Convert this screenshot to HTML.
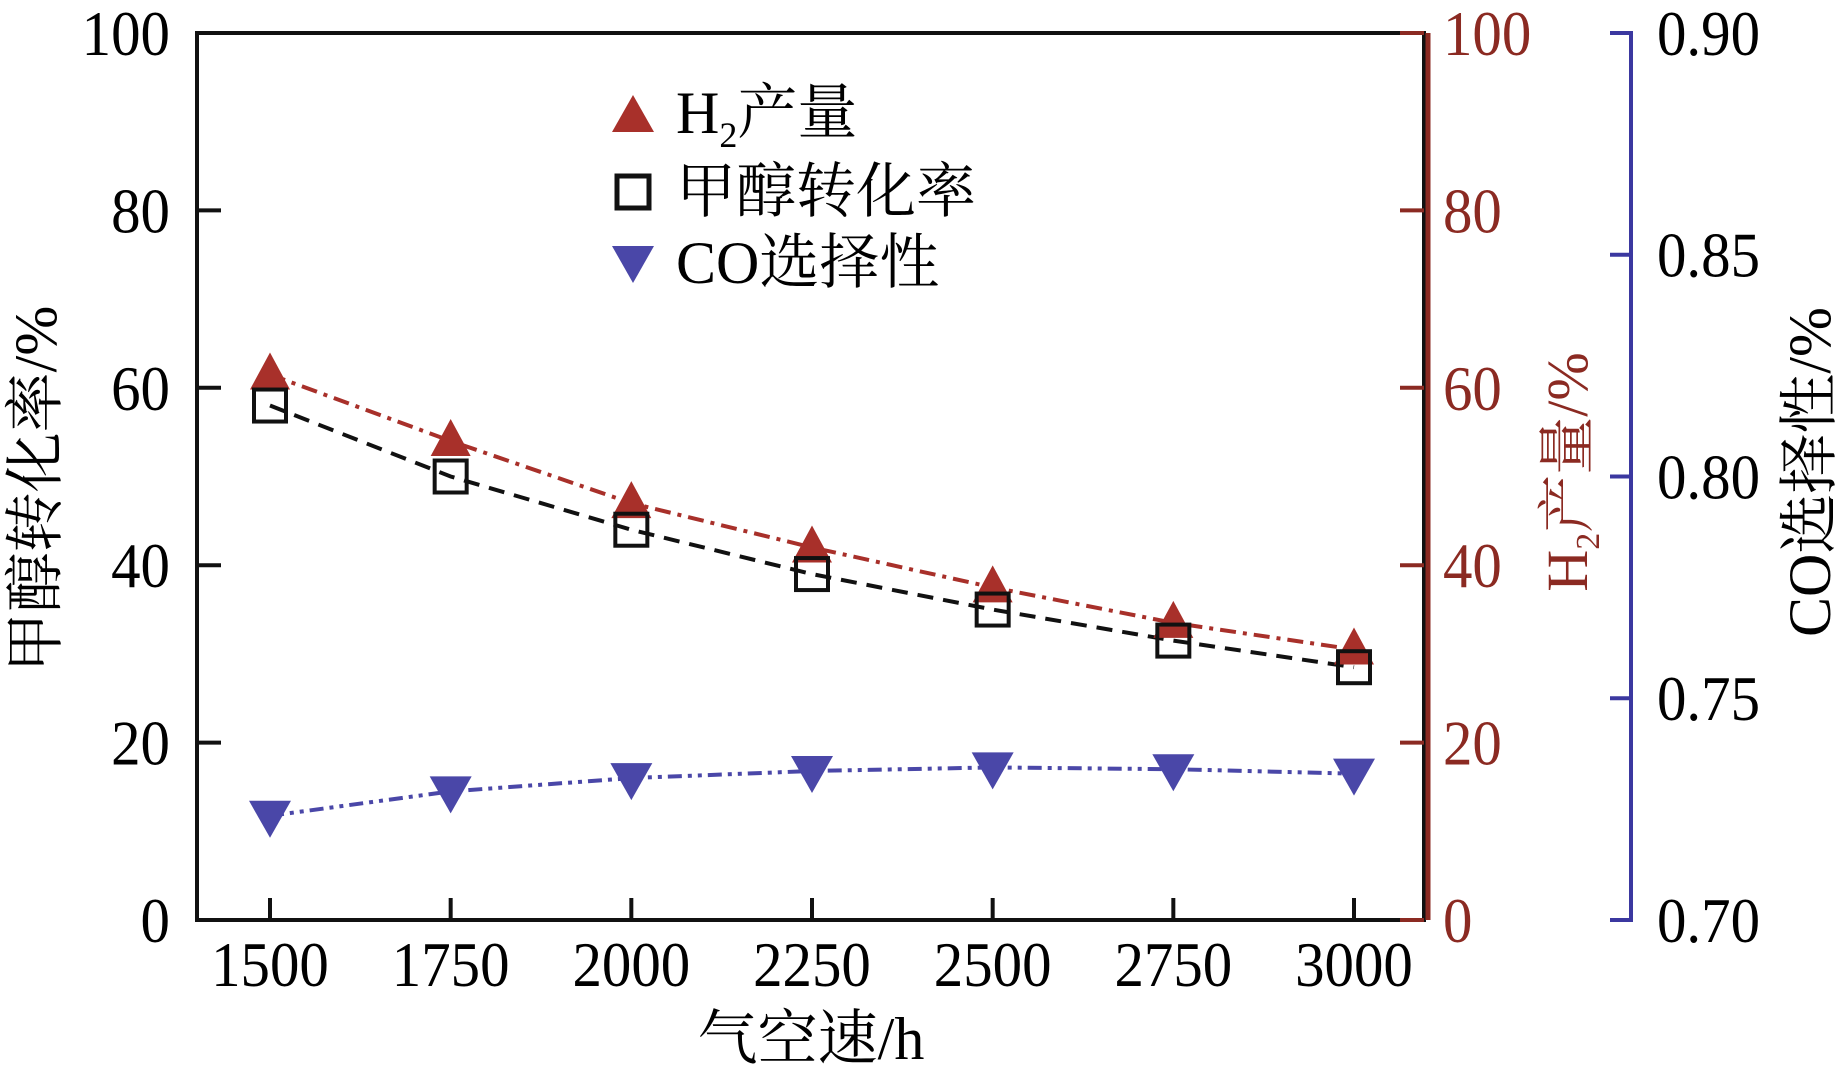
<!DOCTYPE html>
<html><head><meta charset="utf-8"><style>
html,body{margin:0;padding:0;background:#fff;}
svg{display:block;}
text{font-family:"Liberation Serif","Noto Serif CJK SC",serif;}
</style></head><body>
<svg id="chart" width="1843" height="1067" viewBox="0 0 1843 1067" xmlns="http://www.w3.org/2000/svg">
<g id="axes"></g>
<g id="series"></g>
<g id="legend">
  <polygon points="612,132 654,132 633,95" fill="#a8302a"/>
  <text x="676" y="133" font-size="60">H<tspan font-size="36" dy="14">2</tspan><tspan dy="-14">产量</tspan></text>
  <rect x="617" y="176" width="32" height="32" fill="none" stroke="#111" stroke-width="5"/>
  <text x="676" y="212" font-size="60">甲醇转化率</text>
  <polygon points="612,246 654,246 633,283" fill="#4a47a8"/>
  <text x="676" y="283" font-size="60">CO选择性</text>
</g>
</svg>
<script>
const categories = [1500, 1750, 2000, 2250, 2500, 2750, 3000];
const h2Yield = [61.5, 54, 47, 42, 37.5, 33.5, 30.5];
const methanolConv = [58, 50, 44, 39, 35, 31.5, 28.5];
const coSelect = [0.7235, 0.729, 0.732, 0.7336, 0.7344, 0.734, 0.733];
const leftTicks = [0, 20, 40, 60, 80, 100];
const coTicks = ["0.70", "0.75", "0.80", "0.85", "0.90"];

const NS = "http://www.w3.org/2000/svg";
const X0 = 197, X1 = 1424, Y0 = 920, Y1 = 33;
const FS = 64, SX = 0.92;
const xs = v => 270 + (v - 1500) / 1500 * (1354 - 270);
const yl = v => Y0 - v / 100 * (Y0 - Y1);
const yc = v => Y0 - (v - 0.70) / 0.20 * (Y0 - Y1);
function mk(tag, attrs, parent) {
  const e = document.createElementNS(NS, tag);
  for (const k in attrs) e.setAttribute(k, attrs[k]);
  parent.appendChild(e);
  return e;
}
const sc = x => `translate(${x} 0) scale(${SX} 1) translate(${-x} 0)`;
const axes = document.getElementById('axes');
const series = document.getElementById('series');

let f = mk('rect', {x: X0, y: Y1, width: X1 - X0, height: Y0 - Y1, fill: 'none', stroke: '#111', 'stroke-width': 4}, axes);


let ra = mk('line', {x1: X1 + 4, y1: Y1, x2: X1 + 4, y2: Y0, stroke: '#8b2a22', 'stroke-width': 5}, axes);


let ba = mk('polyline', {points: `1610,${Y1} 1631,${Y1} 1631,${Y0} 1610,${Y0}`, fill: 'none', stroke: '#3b38a0', 'stroke-width': 4}, axes);



leftTicks.forEach(v => {
  const y = yl(v);
  let t = mk('line', {x1: X0, y1: y, x2: X0 + 24, y2: y, stroke: '#111', 'stroke-width': 4}, axes);
  
  
  let l = mk('text', {x: 170, y: y + 22, 'font-size': FS, 'text-anchor': 'end', transform: sc(170)}, axes);
  l.textContent = v;
  
  
  let t2 = mk('line', {x1: X1, y1: y, x2: X1 - 24, y2: y, stroke: '#8b2a22', 'stroke-width': 4}, axes);
  
  
  let l2 = mk('text', {x: 1443, y: y + 22, 'font-size': FS, fill: '#8b2a22', transform: sc(1443)}, axes);
  l2.textContent = v;
  
  
});
coTicks.forEach(s => {
  const y = yc(parseFloat(s));
  let t = mk('line', {x1: 1610, y1: y, x2: 1631, y2: y, stroke: '#3b38a0', 'stroke-width': 4}, axes);
  
  
  let l = mk('text', {x: 1657, y: y + 22, 'font-size': FS, transform: sc(1657)}, axes);
  l.textContent = s;
  
  
});
categories.forEach(c => {
  const x = xs(c);
  let t = mk('line', {x1: x, y1: Y0, x2: x, y2: Y0 - 22, stroke: '#111', 'stroke-width': 4}, axes);
  
  
  let l = mk('text', {x: x, y: 986, 'font-size': FS, 'text-anchor': 'middle', transform: sc(x)}, axes);
  l.textContent = c;
  
  
});
let xt = mk('text', {x: 811, y: 1059, 'font-size': 60, 'text-anchor': 'middle'}, axes);
xt.textContent = '气空速/h';


let lt = mk('text', {x: 0, y: 0, 'font-size': 60, 'text-anchor': 'middle', transform: 'translate(56 489) rotate(-90)'}, axes);
lt.textContent = '甲醇转化率/%';


let rt = mk('text', {x: 0, y: 0, 'font-size': 58, 'text-anchor': 'middle', fill: '#8b2a22', transform: 'translate(1587 472) rotate(-90)'}, axes);
rt.innerHTML = 'H<tspan font-size="34" dy="12">2</tspan><tspan dy="-12">产量/%</tspan>';


let ct = mk('text', {x: 0, y: 0, 'font-size': 60, 'text-anchor': 'middle', transform: 'translate(1830 472) rotate(-90)'}, axes);
ct.textContent = 'CO选择性/%';



function line(vals, yf, color, dash, name) {
  const pts = vals.map((v, i) => `${xs(categories[i])},${yf(v)}`).join(' ');
  let p = mk('polyline', {points: pts, fill: 'none', stroke: color, 'stroke-width': 4, 'stroke-dasharray': dash}, series);
  
  
}
line(methanolConv, yl, '#111', '16 10', 'methanol-line');
line(h2Yield, yl, '#a8302a', '16 7 4 7', 'h2-line');
line(coSelect, yc, '#4a47a8', '14 6 4 6 4 6', 'co-line');

h2Yield.forEach((v, i) => {
  const x = xs(categories[i]), y = yl(v);
  let m = mk('polygon', {points: `${x - 20},${y + 15} ${x + 20},${y + 15} ${x},${y - 22}`, fill: '#a8302a'}, series);
  
  
});
methanolConv.forEach((v, i) => {
  const x = xs(categories[i]), y = yl(v);
  let m = mk('rect', {x: x - 16, y: y - 16, width: 32, height: 32, fill: 'none', stroke: '#111', 'stroke-width': 4}, series);
  
  
});
coSelect.forEach((v, i) => {
  const x = xs(categories[i]), y = yc(v);
  let m = mk('polygon', {points: `${x - 21},${y - 15} ${x + 21},${y - 15} ${x},${y + 22}`, fill: '#4a47a8'}, series);
  
  
});
</script>
</body></html>
